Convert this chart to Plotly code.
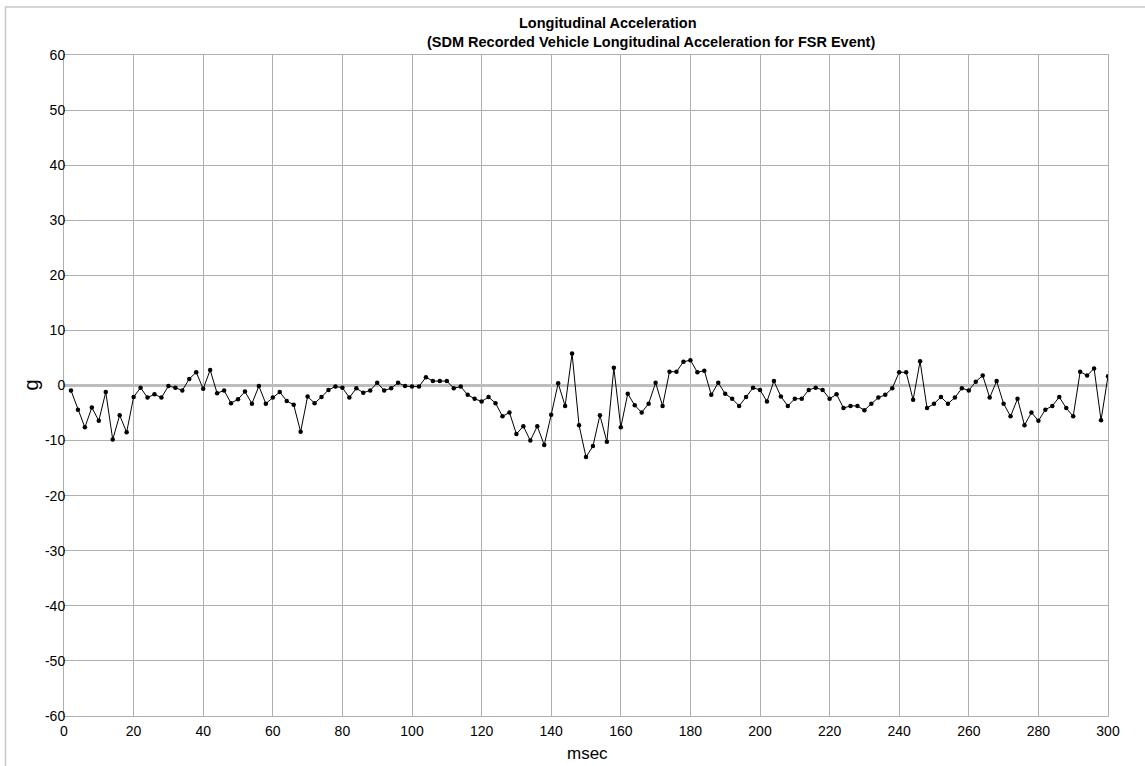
import plotly.graph_objects as go

msec = list(range(2, 301, 2))
accel_g = [
    -0.9, -4.4, -7.6, -4.0, -6.4, -1.2, -9.8, -5.4, -8.5, -2.1,
    -0.4, -2.2, -1.6, -2.2, -0.1, -0.4, -0.9, 1.2, 2.4, -0.6,
    2.8, -1.4, -0.9, -3.2, -2.5, -1.1, -3.3, -0.1, -3.3, -2.2,
    -1.2, -2.8, -3.5, -8.4, -2.0, -3.2, -2.1, -0.8, -0.2, -0.4,
    -2.2, -0.5, -1.3, -0.9, 0.5, -0.9, -0.5, 0.5, -0.1, -0.2,
    -0.2, 1.5, 0.8, 0.8, 0.8, -0.5, -0.2, -1.7, -2.4, -2.9,
    -2.1, -3.2, -5.6, -4.9, -8.8, -7.4, -10.0, -7.4, -10.8, -5.3,
    0.4, -3.7, 5.8, -7.2, -13.0, -11.0, -5.4, -10.2, 3.2, -7.6,
    -1.5, -3.6, -4.9, -3.3, 0.5, -3.7, 2.5, 2.5, 4.3, 4.6,
    2.4, 2.7, -1.7, 0.5, -1.5, -2.4, -3.7, -2.1, -0.4, -0.8,
    -2.9, 0.8, -2.0, -3.7, -2.4, -2.4, -0.8, -0.4, -0.8, -2.4,
    -1.6, -4.1, -3.7, -3.7, -4.5, -3.3, -2.2, -1.7, -0.5, 2.4,
    2.4, -2.6, 4.4, -4.1, -3.3, -2.1, -3.3, -2.2, -0.5, -0.9,
    0.7, 1.8, -2.2, 0.8, -3.3, -5.6, -2.4, -7.2, -4.9, -6.4,
    -4.4, -3.7, -2.1, -4.1, -5.6, 2.5, 1.8, 3.1, -6.3, 1.7,
]

x_ticks = list(range(0, 301, 20))
y_ticks = list(range(-60, 61, 10))
y_tick_labels = [str(v) for v in y_ticks]

FONT = "Liberation Sans, Arial, sans-serif"
GRID = "#b0b0b0"

fig = go.Figure()
fig.add_trace(go.Scatter(
    x=msec, y=accel_g, mode="lines+markers",
    line=dict(color="black", width=1),
    marker=dict(color="black", size=4.5),
    showlegend=False, hoverinfo="x+y",
))

L, R, T, B = 64, 37, 55, 50
W, H = 1145, 766
pw, ph = W - L - R, H - T - B

fig.update_layout(
    width=W, height=H,
    margin=dict(l=L, r=R, t=T, b=B),
    paper_bgcolor="white", plot_bgcolor="white",
    font=dict(family=FONT, size=14, color="black"),
    xaxis=dict(
        range=[0, 300], tickvals=x_ticks, showgrid=True, gridcolor=GRID, gridwidth=1,
        zeroline=False, showline=True, linecolor=GRID, linewidth=1, mirror=True,
        ticks="", tickfont=dict(size=14), ticklabelstandoff=2,
    ),
    yaxis=dict(
        range=[-60, 60], tickvals=y_ticks, ticktext=y_tick_labels,
        showgrid=True, gridcolor=GRID, gridwidth=1,
        zeroline=True, zerolinecolor="#bdbdbd", zerolinewidth=3,
        showline=True, linecolor=GRID, linewidth=1, mirror=True,
        ticks="", tickfont=dict(size=14), ticklabelstandoff=-5,
    ),
    annotations=[
        dict(text="<b>Longitudinal Acceleration</b>", xref="paper", yref="paper",
             x=(608 - L) / pw, y=1 + (T - 23) / ph, xanchor="center", yanchor="middle",
             showarrow=False, font=dict(size=14.5, family=FONT)),
        dict(text="<b>(SDM Recorded Vehicle Longitudinal Acceleration for FSR Event)</b>",
             xref="paper", yref="paper",
             x=(651 - L) / pw, y=1 + (T - 42) / ph, xanchor="center", yanchor="middle",
             showarrow=False, font=dict(size=14.5, family=FONT)),
        dict(text="g", xref="paper", yref="paper", textangle=-90,
             x=(30 - L) / pw, y=0.5, xanchor="center", yanchor="middle",
             showarrow=False, font=dict(size=20, family=FONT)),
        dict(text="msec", xref="paper", yref="paper",
             x=(587 - L) / pw, y=-(754 - (H - B)) / ph, xanchor="center", yanchor="middle",
             showarrow=False, font=dict(size=17, family=FONT)),
    ],
    shapes=[
        dict(type="rect", xref="paper", yref="paper",
             x0=(5.5 - L) / pw, x1=(W + 5 - L) / pw,
             y0=-(H + 5 - (H - B)) / ph, y1=1 + (T - 7) / ph,
             line=dict(color="#c8c8c8", width=1.5), fillcolor="rgba(0,0,0,0)", layer="below"),
    ],
)

fig.write_html("out.html")
